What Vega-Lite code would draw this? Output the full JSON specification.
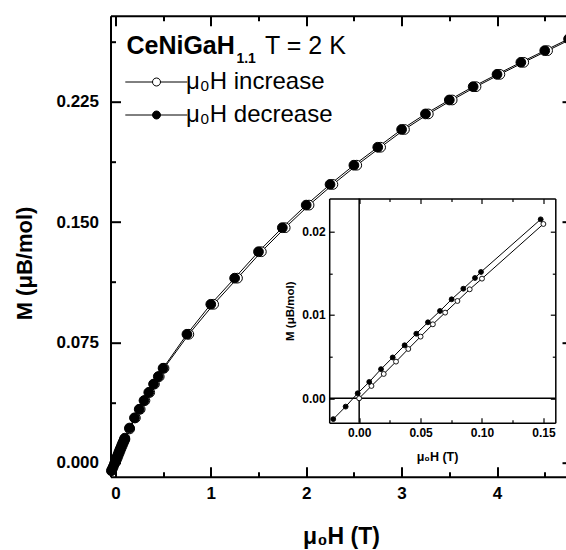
{
  "$schema": "https://vega.github.io/schema/vega-lite/v6.json",
  "width": 455.5,
  "height": 461,
  "autosize": {"type": "none"},
  "padding": {"left": 110.5, "top": 15.7, "right": 0, "bottom": 73.3},
  "background": "white",
  "config": {
    "view": {"stroke": null},
    "font": "Liberation Sans",
    "axis": {"grid": false, "domainColor": "black", "tickColor": "black", "labelColor": "black", "titleColor": "black", "labelFlush": false, "labelOverlap": false}
  },
  "datasets": {
    "d": [
      {"H": 0, "M": 0.0, "s": "μ₀H increase"},
      {"H": 0.01, "M": 0.00148, "s": "μ₀H increase"},
      {"H": 0.02, "M": 0.00292, "s": "μ₀H increase"},
      {"H": 0.03, "M": 0.0044, "s": "μ₀H increase"},
      {"H": 0.04, "M": 0.00592, "s": "μ₀H increase"},
      {"H": 0.05, "M": 0.0074, "s": "μ₀H increase"},
      {"H": 0.06, "M": 0.00888, "s": "μ₀H increase"},
      {"H": 0.07, "M": 0.01028, "s": "μ₀H increase"},
      {"H": 0.08, "M": 0.01168, "s": "μ₀H increase"},
      {"H": 0.09, "M": 0.01308, "s": "μ₀H increase"},
      {"H": 0.1, "M": 0.01436, "s": "μ₀H increase"},
      {"H": 0.15, "M": 0.02092, "s": "μ₀H increase"},
      {"H": 0.21, "M": 0.0278, "s": "μ₀H increase"},
      {"H": 0.26, "M": 0.0332, "s": "μ₀H increase"},
      {"H": 0.31, "M": 0.0386, "s": "μ₀H increase"},
      {"H": 0.36, "M": 0.0437, "s": "μ₀H increase"},
      {"H": 0.41, "M": 0.0489, "s": "μ₀H increase"},
      {"H": 0.46, "M": 0.0536, "s": "μ₀H increase"},
      {"H": 0.51, "M": 0.0588, "s": "μ₀H increase"},
      {"H": 0.77, "M": 0.08, "s": "μ₀H increase"},
      {"H": 1.03, "M": 0.0987, "s": "μ₀H increase"},
      {"H": 1.28, "M": 0.115, "s": "μ₀H increase"},
      {"H": 1.53, "M": 0.1315, "s": "μ₀H increase"},
      {"H": 1.78, "M": 0.1465, "s": "μ₀H increase"},
      {"H": 2.03, "M": 0.1606, "s": "μ₀H increase"},
      {"H": 2.28, "M": 0.1735, "s": "μ₀H increase"},
      {"H": 2.53, "M": 0.1855, "s": "μ₀H increase"},
      {"H": 2.78, "M": 0.1967, "s": "μ₀H increase"},
      {"H": 3.03, "M": 0.2078, "s": "μ₀H increase"},
      {"H": 3.28, "M": 0.2175, "s": "μ₀H increase"},
      {"H": 3.53, "M": 0.2262, "s": "μ₀H increase"},
      {"H": 3.78, "M": 0.2345, "s": "μ₀H increase"},
      {"H": 4.03, "M": 0.2422, "s": "μ₀H increase"},
      {"H": 4.28, "M": 0.2497, "s": "μ₀H increase"},
      {"H": 4.53, "M": 0.257, "s": "μ₀H increase"},
      {"H": 4.78, "M": 0.2643, "s": "μ₀H increase"},
      {"H": -0.042, "M": -0.0052, "s": "μ₀H decrease"},
      {"H": -0.031, "M": -0.0039, "s": "μ₀H decrease"},
      {"H": -0.0211, "M": -0.0025, "s": "μ₀H decrease"},
      {"H": -0.011, "M": -0.001, "s": "μ₀H decrease"},
      {"H": -0.0012, "M": 0.0006, "s": "μ₀H decrease"},
      {"H": 0.0082, "M": 0.00196, "s": "μ₀H decrease"},
      {"H": 0.0178, "M": 0.0035, "s": "μ₀H decrease"},
      {"H": 0.0273, "M": 0.0049, "s": "μ₀H decrease"},
      {"H": 0.037, "M": 0.00636, "s": "μ₀H decrease"},
      {"H": 0.0465, "M": 0.00775, "s": "μ₀H decrease"},
      {"H": 0.056, "M": 0.00912, "s": "μ₀H decrease"},
      {"H": 0.0658, "M": 0.01048, "s": "μ₀H decrease"},
      {"H": 0.0753, "M": 0.01188, "s": "μ₀H decrease"},
      {"H": 0.0848, "M": 0.01315, "s": "μ₀H decrease"},
      {"H": 0.0943, "M": 0.01444, "s": "μ₀H decrease"},
      {"H": 0.0992, "M": 0.01516, "s": "μ₀H decrease"},
      {"H": 0.1478, "M": 0.02148, "s": "μ₀H decrease"},
      {"H": 0.2, "M": 0.0278, "s": "μ₀H decrease"},
      {"H": 0.25, "M": 0.0332, "s": "μ₀H decrease"},
      {"H": 0.3, "M": 0.0386, "s": "μ₀H decrease"},
      {"H": 0.35, "M": 0.0437, "s": "μ₀H decrease"},
      {"H": 0.4, "M": 0.0489, "s": "μ₀H decrease"},
      {"H": 0.45, "M": 0.0536, "s": "μ₀H decrease"},
      {"H": 0.5, "M": 0.0588, "s": "μ₀H decrease"},
      {"H": 0.75, "M": 0.08, "s": "μ₀H decrease"},
      {"H": 1.0, "M": 0.0987, "s": "μ₀H decrease"},
      {"H": 1.25, "M": 0.115, "s": "μ₀H decrease"},
      {"H": 1.5, "M": 0.1315, "s": "μ₀H decrease"},
      {"H": 1.75, "M": 0.1465, "s": "μ₀H decrease"},
      {"H": 2.0, "M": 0.1606, "s": "μ₀H decrease"},
      {"H": 2.25, "M": 0.1735, "s": "μ₀H decrease"},
      {"H": 2.5, "M": 0.1855, "s": "μ₀H decrease"},
      {"H": 2.75, "M": 0.1967, "s": "μ₀H decrease"},
      {"H": 3.0, "M": 0.2078, "s": "μ₀H decrease"},
      {"H": 3.25, "M": 0.2175, "s": "μ₀H decrease"},
      {"H": 3.5, "M": 0.2262, "s": "μ₀H decrease"},
      {"H": 3.75, "M": 0.2345, "s": "μ₀H decrease"},
      {"H": 4.0, "M": 0.2422, "s": "μ₀H decrease"},
      {"H": 4.25, "M": 0.2497, "s": "μ₀H decrease"},
      {"H": 4.5, "M": 0.257, "s": "μ₀H decrease"},
      {"H": 4.75, "M": 0.2643, "s": "μ₀H decrease"}
    ]
  },
  "data": {"name": "d"},
  "layer": [
    {
      "layer": [
        {
          "mark": {"type": "line", "color": "black", "strokeWidth": 1},
          "encoding": {
            "x": {"field": "H", "type": "quantitative",
              "scale": {"domain": [-0.051, 4.723], "nice": false, "zero": false},
              "axis": {"orient": "bottom", "values": [0, 0.5, 1, 1.5, 2, 2.5, 3, 3.5, 4, 4.5],
                "labelExpr": "datum.value % 1 === 0 ? format(datum.value, 'd') : ''",
                "tickSize": {"condition": {"test": "datum.value % 1 === 0", "value": -10}, "value": -5},
                "tickWidth": 2, "domainWidth": 2,
                "labelFontWeight": "bold", "labelFontSize": 17, "labelPadding": 19, "labelBaseline": "top",
                "title": "μ₀H (T)", "titleFontSize": 23, "titleFontWeight": "bold",
                "titleX": 230.5, "titleY": 66.3, "titleBaseline": "alphabetic", "titleAlign": "center", "titleAnchor": null}},
            "y": {"field": "M", "type": "quantitative",
              "scale": {"domain": [-0.0089, 0.2788], "nice": false, "zero": false},
              "axis": {"orient": "left", "values": [0, 0.0375, 0.075, 0.1125, 0.15, 0.1875, 0.225, 0.2625],
                "labelExpr": "abs(datum.value/0.075 - round(datum.value/0.075)) < 0.001 ? format(datum.value, '.3f') : ''",
                "tickSize": {"condition": {"test": "abs(datum.value/0.075 - round(datum.value/0.075)) < 0.001", "value": -10}, "value": -5},
                "tickWidth": 2, "domainWidth": 2,
                "labelFontWeight": "bold", "labelFontSize": 17, "labelPadding": 22, "labelBaseline": "middle",
                "title": "M (μB/mol)", "titleFontSize": 22, "titleFontWeight": "bold", "titleAngle": 270,
                "titleX": -86, "titleY": 247.3, "titleBaseline": "middle", "titleAlign": "center", "titleAnchor": null}},
            "detail": {"field": "s"}
          }
        },
        {
          "mark": {"type": "point", "filled": true, "shape": "circle", "size": 95, "stroke": "black", "strokeWidth": 1, "opacity": 1},
          "encoding": {
            "x": {"field": "H", "type": "quantitative",
              "axis": {"orient": "top", "values": [0, 0.5, 1, 1.5, 2, 2.5, 3, 3.5, 4, 4.5], "labels": false,
                "tickSize": {"condition": {"test": "datum.value % 1 === 0", "value": -10}, "value": -5},
                "tickWidth": 2, "domainWidth": 2, "title": null}},
            "y": {"field": "M", "type": "quantitative",
              "axis": {"orient": "right", "values": [0, 0.075, 0.15, 0.225], "labels": false, "domain": false,
                "tickSize": -4, "tickWidth": 2, "title": null}},
            "fill": {"field": "s", "type": "nominal",
              "scale": {"domain": ["μ₀H increase", "μ₀H decrease"], "range": ["white", "black"]},
              "legend": {"orient": "none", "legendX": 34, "legendY": 54.3, "title": null,
                "symbolType": "M-7.8,0H-1M1,0H7.7M-1,0A1,1,0,1,0,1,0A1,1,0,1,0,-1,0Z",
                "symbolSize": 64, "symbolStrokeColor": "black", "symbolStrokeWidth": 1,
                "labelFontSize": 24, "labelColor": "black", "labelOffset": 17.5, "labelLimit": 400,
                "rowPadding": 9, "padding": 0}}
          }
        },
        {
          "data": {"values": [{"t": "CeNiGaH"}]},
          "mark": {"type": "text", "fontSize": 25, "fontWeight": "bold", "align": "left", "baseline": "alphabetic", "color": "black"},
          "encoding": {
            "x": {"datum": 0.116, "type": "quantitative", "axis": null},
            "y": {"datum": 0.2547, "type": "quantitative", "axis": null},
            "text": {"field": "t"}
          }
        },
        {
          "data": {"values": [{"t": "1.1"}]},
          "mark": {"type": "text", "fontSize": 14, "fontWeight": "bold", "align": "left", "baseline": "alphabetic", "color": "black"},
          "encoding": {
            "x": {"datum": 1.269, "type": "quantitative", "axis": null},
            "y": {"datum": 0.2491, "type": "quantitative", "axis": null},
            "text": {"field": "t"}
          }
        },
        {
          "data": {"values": [{"t": "T = 2 K"}]},
          "mark": {"type": "text", "fontSize": 25, "align": "left", "baseline": "alphabetic", "color": "black"},
          "encoding": {
            "x": {"datum": 1.568, "type": "quantitative", "axis": null},
            "y": {"datum": 0.2547, "type": "quantitative", "axis": null},
            "text": {"field": "t"}
          }
        }
      ],
      "resolve": {"axis": {"x": "independent", "y": "independent"}}
    },
    {
      "layer": [
        {
          "data": {"values": [{}]},
          "mark": {"type": "rule", "color": "black", "strokeWidth": 1.5},
          "encoding": {
            "x": {"datum": 0, "type": "quantitative",
              "scale": {"domain": [-0.0244, 0.1597], "range": [218.7, 444.8], "nice": false, "zero": false},
              "axis": {"orient": "bottom", "offset": -54, "values": [0, 0.025, 0.05, 0.075, 0.1, 0.125, 0.15],
                "labelExpr": "abs(datum.value/0.05 - round(datum.value/0.05)) < 0.001 ? format(datum.value, '.2f') : ''",
                "tickSize": {"condition": {"test": "abs(datum.value/0.05 - round(datum.value/0.05)) < 0.001", "value": -5}, "value": -3},
                "tickWidth": 1.2, "domainWidth": 1.5,
                "labelFontWeight": "bold", "labelFontSize": 12, "labelPadding": 10, "labelBaseline": "top",
                "title": "μ₀H (T)", "titleFontSize": 12.5, "titleFontWeight": "bold",
                "titleX": 326.5, "titleY": 34, "titleBaseline": "middle", "titleAlign": "center", "titleAnchor": null}},
            "y": {"datum": -0.00293, "type": "quantitative",
              "scale": {"domain": [-0.00293, 0.02398], "range": [407, 182.8], "nice": false, "zero": false},
              "axis": {"orient": "left", "offset": -218.7, "values": [0, 0.005, 0.01, 0.015, 0.02],
                "labelExpr": "abs(datum.value/0.01 - round(datum.value/0.01)) < 0.001 ? format(datum.value, '.2f') : ''",
                "tickSize": {"condition": {"test": "abs(datum.value/0.01 - round(datum.value/0.01)) < 0.001", "value": -5}, "value": -3},
                "tickWidth": 1.2, "domainWidth": 1.5,
                "labelFontWeight": "bold", "labelFontSize": 12, "labelPadding": 9, "labelBaseline": "middle",
                "title": "M (μB/mol)", "titleFontSize": 11.5, "titleFontWeight": "bold", "titleAngle": 270,
                "titleX": -39, "titleY": 295, "titleBaseline": "middle", "titleAlign": "center", "titleAnchor": null}},
            "y2": {"datum": 0.02398}
          }
        },
        {
          "data": {"values": [{}]},
          "mark": {"type": "rule", "color": "black", "strokeWidth": 1.5},
          "encoding": {
            "y": {"datum": 0, "type": "quantitative",
              "axis": {"orient": "right", "offset": -10.7, "values": [0, 0.005, 0.01, 0.015, 0.02], "labels": false,
                "tickSize": {"condition": {"test": "abs(datum.value/0.01 - round(datum.value/0.01)) < 0.001", "value": -5}, "value": -3},
                "tickWidth": 1.2, "domainWidth": 1.5, "title": null}},
            "x": {"datum": -0.0244, "type": "quantitative",
              "axis": {"orient": "top", "offset": -182.8, "values": [0, 0.025, 0.05, 0.075, 0.1, 0.125, 0.15], "labels": false,
                "tickSize": {"condition": {"test": "abs(datum.value/0.05 - round(datum.value/0.05)) < 0.001", "value": -5}, "value": -3},
                "tickWidth": 1.2, "domainWidth": 1.5, "title": null}},
            "x2": {"datum": 0.1597}
          }
        },
        {
          "transform": [{"filter": "datum.H >= -0.025 && datum.H <= 0.16"}],
          "mark": {"type": "line", "color": "black", "strokeWidth": 1},
          "encoding": {
            "x": {"field": "H", "type": "quantitative", "axis": null},
            "y": {"field": "M", "type": "quantitative", "axis": null},
            "detail": {"field": "s"}
          }
        },
        {
          "transform": [{"filter": "datum.H >= -0.025 && datum.H <= 0.16"}],
          "mark": {"type": "point", "filled": true, "shape": "circle", "size": 24, "stroke": "black", "strokeWidth": 0.9, "opacity": 1},
          "encoding": {
            "x": {"field": "H", "type": "quantitative", "axis": null},
            "y": {"field": "M", "type": "quantitative", "axis": null},
            "fill": {"field": "s", "type": "nominal", "legend": null}
          }
        }
      ],
      "resolve": {"axis": {"x": "independent", "y": "independent"}}
    }
  ],
  "resolve": {"scale": {"x": "independent", "y": "independent"}, "axis": {"x": "independent", "y": "independent"}}
}
